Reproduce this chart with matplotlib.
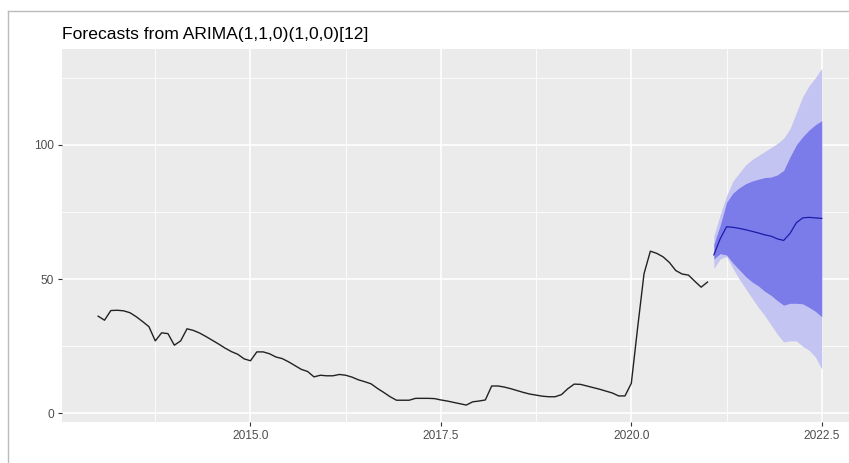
import numpy as np
import matplotlib.pyplot as plt
from matplotlib.lines import Line2D

plt.rcParams['font.family'] = ['Liberation Sans', 'DejaVu Sans']

# monthly observed series, Jan 2013 .. Jan 2021
start_year = 2013.0
observed = [36.2, 34.7, 38.3, 38.4, 38.2, 37.5, 36.0, 34.2, 32.3, 27.0, 30.0, 29.7,
            25.4, 27.0, 31.5, 30.9, 29.9, 28.6, 27.2, 25.8, 24.3, 23.0, 22.0, 20.3,
            19.6, 22.9, 22.9, 22.2, 21.0, 20.4, 19.2, 17.8, 16.4, 15.6, 13.6, 14.2,
            14.0, 14.0, 14.5, 14.2, 13.5, 12.5, 11.8, 11.0, 9.3, 7.8, 6.2, 4.9,
            4.9, 4.9, 5.6, 5.6, 5.6, 5.5, 5.0, 4.6, 4.1, 3.6, 3.1, 4.3,
            4.6, 5.0, 10.2, 10.2, 9.8, 9.2, 8.5, 7.8, 7.2, 6.8, 6.4, 6.2,
            6.2, 7.0, 9.2, 10.9, 10.8, 10.2, 9.6, 9.0, 8.3, 7.6, 6.5, 6.5,
            11.2, 32.0, 52.0, 60.4, 59.6, 58.3, 56.2, 53.2, 51.9, 51.5, 49.2, 47.0,
            48.9]

# forecast, Feb 2021 .. Jul 2022
fc_mean = [59.0, 65.0, 69.5, 69.3, 68.9, 68.4, 67.8, 67.2, 66.5, 66.0, 65.0, 64.4,
           67.0, 71.0, 72.8, 73.0, 72.8, 72.6]
fc_lo80 = [57.5, 59.5, 59.0, 56.0, 53.5, 51.0, 49.0, 47.5, 45.5, 44.0, 42.0, 40.3,
           41.0, 41.0, 40.8, 39.5, 38.0, 36.0]
fc_hi80 = [63.0, 70.0, 78.5, 82.0, 84.0, 85.5, 86.5, 87.2, 87.8, 88.0, 88.8, 90.5,
           95.5, 100.0, 103.0, 105.5, 107.5, 109.0]
fc_lo95 = [54.0, 57.5, 58.5, 54.0, 50.0, 46.5, 43.0, 39.5, 36.5, 33.0, 29.5, 26.6,
           27.0, 27.0, 25.0, 23.5, 21.0, 16.5]
fc_hi95 = [66.0, 74.0, 81.0, 86.5, 89.5, 92.5, 94.5, 96.0, 97.5, 99.0, 100.5, 102.5,
           106.0, 112.0, 118.0, 122.0, 125.0, 128.5]

t_obs = start_year + np.arange(len(observed)) / 12
t_fc = t_obs[-1] + (np.arange(len(fc_mean)) + 1) / 12

fig = plt.figure(figsize=(8.49, 4.63), dpi=100)
ax = fig.add_axes([0.073, 0.0886, 0.9375, 0.8056])
ax.set_facecolor('#EBEBEB')

ax.fill_between(t_fc, fc_lo95, fc_hi95, color='#C4C4F2', lw=0, zorder=2)
ax.fill_between(t_fc, fc_lo80, fc_hi80, color='#7B7BEA', lw=0, zorder=3)
ax.plot(t_fc, fc_mean, color='#1C1CA8', lw=0.9, zorder=4)
ax.plot(t_obs, observed, color='#222222', lw=1.0, zorder=4)

ax.set_xlim(2012.525, 2022.975)
ax.set_ylim(-3.2, 135.7)

ax.set_xticks([2015.0, 2017.5, 2020.0, 2022.5])
ax.set_xticklabels(['2015.0', '2017.5', '2020.0', '2022.5'])
ax.set_xticks([2013.75, 2016.25, 2018.75, 2021.25], minor=True)
ax.set_yticks([0, 50, 100])
ax.set_yticks([25, 75, 125], minor=True)

ax.grid(which='major', color='white', lw=1.2, zorder=1)
ax.grid(which='minor', color='white', lw=0.6, zorder=1)
ax.set_axisbelow(True)
for s in ax.spines.values():
    s.set_visible(False)
ax.tick_params(which='major', length=3, width=0.8, color='#333333',
               labelcolor='#4D4D4D', labelsize=8.6, pad=3)
ax.tick_params(which='minor', length=0)

fig.text(0.073, 0.915, 'Forecasts from ARIMA(1,1,0)(1,0,0)[12]', fontsize=12.6,
         color='black', ha='left', va='baseline')

# screenshot frame lines at top and left
fig.add_artist(Line2D([8 / 849, 1], [1 - 11 / 463, 1 - 11 / 463], color='#BBBBBB', lw=1.0))
fig.add_artist(Line2D([8 / 849, 8 / 849], [0, 1 - 11 / 463], color='#BBBBBB', lw=1.0))

fig.savefig('out.png', dpi=100)
